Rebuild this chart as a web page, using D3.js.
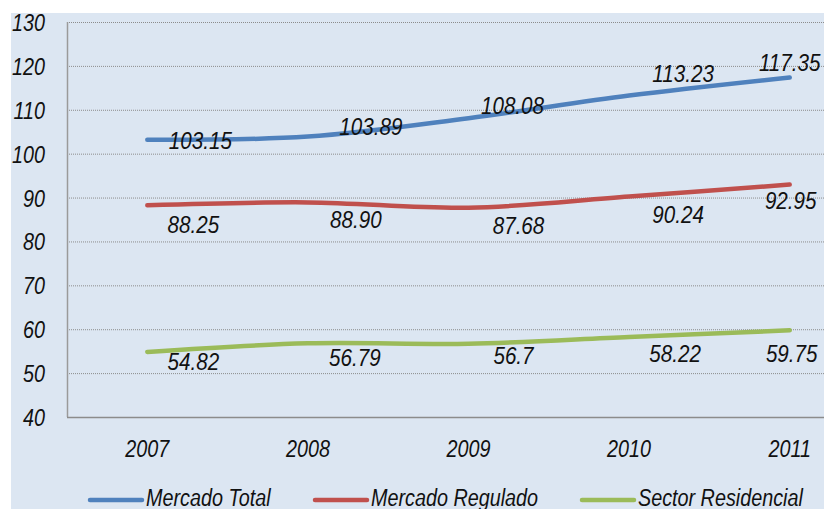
<!DOCTYPE html>
<html>
<head>
<meta charset="utf-8">
<script src="https://cdn.jsdelivr.net/npm/d3@7"></script>
<style>
  body { margin: 0; background: #fff; }
  text { font-family: "Liberation Sans", Arial, sans-serif; font-style: italic; fill: #111; }
</style>
</head>
<body>
<div id="chart-container"></div>
<script>
// data
var years = ["2007", "2008", "2009", "2010", "2011"];
var mercadoTotal = [103.15, 103.89, 108.08, 113.23, 117.35];
var mercadoRegulado = [88.25, 88.90, 87.68, 90.24, 92.95];
var sectorResidencial = [54.82, 56.79, 56.7, 58.22, 59.75];
var yTicks = [40, 50, 60, 70, 80, 90, 100, 110, 120, 130];
var labelsTotal = ["103.15", "103.89", "108.08", "113.23", "117.35"];
var labelsRegulado = ["88.25", "88.90", "87.68", "90.24", "92.95"];
var labelsResidencial = ["54.82", "56.79", "56.7", "58.22", "59.75"];

// label placement (layout only)
var offTotal = [[53, 1], [63, -10], [44, -13], [54, -22], [0, -15]];
var offRegulado = [[46, 19], [48, 17], [50, 18], [49, 18], [1, 16]];
var offResidencial = [[46, 9], [47, 14], [45, 12], [46, 16], [2, 23]];

var W = 824, H = 509;
var squeeze = 0.86; // text in the original looks narrow

var svg = d3.select("#chart-container")
    .append("svg")
    .attr("width", W)
    .attr("height", H);

// places a narrowed text at px,py
function putText(sel, px, py) {
    sel.attr("transform", function(d, i) {
        return "translate(" + px(d, i) + "," + py(d, i) + ") scale(" + squeeze + ",1)";
    });
    return sel;
}

// light blue chart area
svg.append("rect")
    .attr("x", 11).attr("y", 13)
    .attr("width", W - 11).attr("height", H - 13)
    .attr("fill", "#dce6f2");

var x = d3.scalePoint()
    .domain(years)
    .range([67, 870])
    .padding(0.5);

var y = d3.scaleLinear()
    .domain([40, 130])
    .range([417, 22]);

// gridlines
svg.append("g")
    .selectAll("line")
    .data(yTicks.slice(1))
    .enter().append("line")
    .attr("x1", 67).attr("x2", W)
    .attr("y1", function(d) { return y(d) + 0.5; })
    .attr("y2", function(d) { return y(d) + 0.5; })
    .attr("stroke", "#8c8c8c")
    .attr("stroke-width", 1)
    .attr("stroke-dasharray", "1,1");

// axes
svg.append("line")
    .attr("x1", 67.5).attr("x2", 67.5)
    .attr("y1", y(130)).attr("y2", y(40))
    .attr("stroke", "#9a9a9a").attr("stroke-width", 1.5);
svg.append("line")
    .attr("x1", 67).attr("x2", W)
    .attr("y1", y(40) + 0.5).attr("y2", y(40) + 0.5)
    .attr("stroke", "#8c8c8c").attr("stroke-width", 1.5);

putText(svg.append("g")
    .selectAll("text")
    .data(yTicks)
    .enter().append("text")
    .attr("text-anchor", "end")
    .style("font-size", "23px")
    .text(function(d) { return d; }),
    function() { return 45; },
    function(d) { return y(d) + 9; });

putText(svg.append("g")
    .selectAll("text")
    .data(years)
    .enter().append("text")
    .attr("text-anchor", "middle")
    .style("font-size", "23px")
    .text(function(d) { return d; }),
    function(d) { return x(d); },
    function() { return 457; });

var series = [
    { name: "Mercado Total", values: mercadoTotal, labels: labelsTotal, off: offTotal, color: "#4f81bd" },
    { name: "Mercado Regulado", values: mercadoRegulado, labels: labelsRegulado, off: offRegulado, color: "#c0504d" },
    { name: "Sector Residencial", values: sectorResidencial, labels: labelsResidencial, off: offResidencial, color: "#9bbb59" }
];

var line = d3.line()
    .x(function(d, i) { return x(years[i]); })
    .y(function(d) { return y(d); })
    .curve(d3.curveCatmullRom.alpha(0.5));

series.forEach(function(s) {
    svg.append("path")
        .datum(s.values)
        .attr("fill", "none")
        .attr("stroke", s.color)
        .attr("stroke-width", 4.5)
        .attr("stroke-linecap", "round")
        .attr("d", line);
});

series.forEach(function(s) {
    putText(svg.append("g")
        .selectAll("text")
        .data(s.values)
        .enter().append("text")
        .attr("dy", "0.36em")
        .attr("text-anchor", "middle")
        .style("font-size", "24px")
        .text(function(d, i) { return s.labels[i]; }),
        function(d, i) { return x(years[i]) + s.off[i][0]; },
        function(d, i) { return y(d) + s.off[i][1]; });
});

// legend
var legendX = [90, 315, 582];
var legend = svg.append("g");
series.forEach(function(s, i) {
    legend.append("line")
        .attr("x1", legendX[i]).attr("x2", legendX[i] + 52)
        .attr("y1", 500).attr("y2", 500)
        .attr("stroke", s.color)
        .attr("stroke-width", 4.5)
        .attr("stroke-linecap", "round");
    legend.append("text")
        .attr("transform", "translate(" + (legendX[i] + 56) + ",506) scale(" + squeeze + ",1)")
        .style("font-size", "23px")
        .text(s.name);
});
</script>
</body>
</html>
